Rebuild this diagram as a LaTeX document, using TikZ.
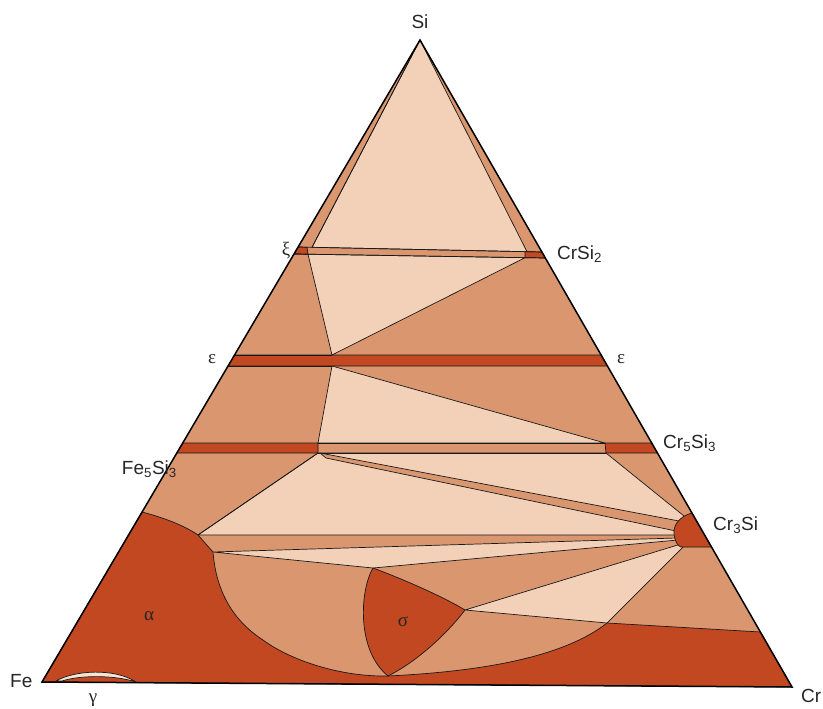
\documentclass[tikz,border=0pt]{standalone}
\usepackage{fontspec}
\setmainfont{Liberation Sans}
\newfontfamily\grkfont{Liberation Serif}
\usepackage{xcolor}
\usepackage{tikz}
\definecolor{lightc}{RGB}{243,208,184}
\definecolor{midc}{RGB}{218,150,110}
\definecolor{darkc}{RGB}{194,72,34}

\begin{document}
\begin{tikzpicture}[
  x=1pt, y=-1pt,
  fieldline/.style={draw=black!90, line width=0.7pt, line join=round},
  pale/.style={fieldline, fill=lightc},
  deep/.style={fieldline, fill=darkc},
  elem/.style={font=\fontsize{19}{22}\selectfont, text=black!85, inner sep=0pt},
  grk/.style={font=\grkfont\fontsize{19}{22}\selectfont, text=black!85, inner sep=0pt}
]
\useasboundingbox (0,0) rectangle (823,709);

\coordinate (Fe) at (42,682);
\coordinate (Si) at (420,40);
\coordinate (Cr) at (792,687);
\coordinate (K) at (690,530);

\fill[midc] (Fe) -- (Si) -- (Cr) -- cycle;

% three-phase fields
\draw[pale] (Si) -- (527,251.7) -- (312,247.3) -- cycle;
\draw[fieldline] (Si) -- (312,247.3);
\draw[pale] (308,254.2) -- (525,257.7) -- (332,355) -- cycle;
\draw[pale] (332,366) -- (605,443) -- (318,443) -- cycle;
\draw[pale] (320,453) -- (606,453) -- (684,516) -- (K) -- (679,521) -- cycle;
\draw[pale] (318,453) -- (320,453) -- (326,458) -- (676,531) -- (K) -- (676,535) -- (198,535) -- cycle;
\draw[pale] (213,552) -- (677,538) -- (K) -- (678,540) -- (373,568) -- cycle;
\draw[pale] (465,610) -- (681,544) -- (K) -- (684,546) -- (607,623) -- cycle;

% single-phase fields
\draw[deep] (298.1,247) -- (307,247.2) -- (308,254.2) -- (294,254) -- cycle;
\draw[deep] (525,251.6) -- (541.9,252) -- (545.3,258) -- (525,257.7) -- cycle;
\draw[fieldline] (298.1,247) -- (541.9,252);
\draw[fieldline] (294,254) -- (545.3,258);
\draw[deep] (234.5,355) -- (601.1,355) -- (607.4,366) -- (228.1,366) -- cycle;
\draw[deep] (182.7,443) -- (318,443) -- (318,453) -- (176.8,453) -- cycle;
\draw[deep] (605,443) -- (651.7,443) -- (657.5,453) -- (606,453) -- cycle;
\draw[fieldline] (318,443) -- (605,443);
\draw[fieldline] (318,453) -- (606,453);
\draw[fieldline] (308,254.2) -- (294,254);
\draw[fieldline] (332,355) -- (234.5,355);
\draw[fieldline] (332,366) -- (228.1,366);
\draw[fieldline] (318,453) -- (198,535);

\draw[deep] (Fe) -- (142.1,512) .. controls (165,518) and (185,526) .. (198,535)
  -- (213,552) .. controls (216,590) and (232,620) .. (263,640)
  .. controls (290,660) and (340,677) .. (388,676)
  .. controls (470,672) and (560,660) .. (607,623)
  -- (760.4,632) -- (Cr) -- cycle;
\draw[deep] (373,568) .. controls (360,590) and (356,650) .. (388,676)
  .. controls (420,660) and (450,630) .. (465,610)
  .. controls (440,595) and (400,578) .. (373,568) -- cycle;
\draw[deep] (692,513) .. controls (680,516) and (673,525) .. (674,534)
  .. controls (675,542) and (678,546) .. (681,547) -- (711.5,547) -- cycle;
\draw[fieldline, fill=lightc!60!white] (56,681) .. controls (75,670) and (115,668) .. (136,682)
  .. controls (115,675) and (80,675) .. (62,681) -- cycle;

\draw[line width=1.5pt] (Fe) -- (Si) -- (Cr) -- cycle;

\node[elem, anchor=base] (si) at (420,29) {Si};
\node[elem, anchor=base west] (crsi2) at (557,259) {CrSi\textsubscript{2}};
\node[elem, anchor=base east] (fe5si3) at (177,474) {Fe\textsubscript{5}Si\textsubscript{3}};
\node[elem, anchor=base west] (cr5si3) at (663,448) {Cr\textsubscript{5}Si\textsubscript{3}};
\node[elem, anchor=base west] (cr3si) at (713,530) {Cr\textsubscript{3}Si};
\node[elem, anchor=base west] (fe) at (10,687) {Fe};
\node[elem, anchor=base west] (cr) at (801,702) {Cr};
\node[grk] (xi) at (286,251) {ξ};
\node[grk] (epsl) at (212,359) {ε};
\node[grk] (epsr) at (621,359) {ε};
\node[grk] (alpha) at (149,616) {α};
\node[grk] (sigma) at (403,622) {σ};
\node[grk] (gamma) at (93,700) {γ};
\end{tikzpicture}
\end{document}
